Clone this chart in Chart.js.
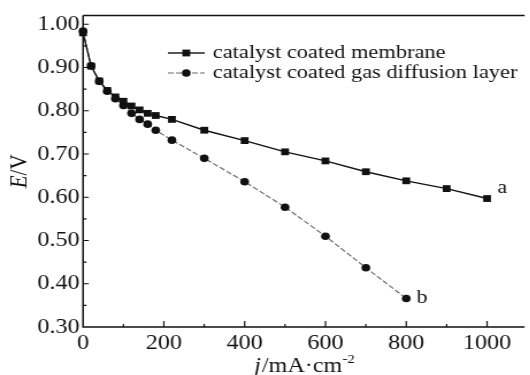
<!DOCTYPE html>
<html>
<head>
<meta charset="utf-8">
<script src="https://cdn.jsdelivr.net/npm/chart.js@4"></script>
<style>
  html, body { margin: 0; padding: 0; background: #fff; overflow: hidden; }
  /* the scanned figure is a bit wider than tall, so the whole chart is stretched sideways */
  #wrap { width: 461px; height: 375px; transform: scaleX(1.15); transform-origin: 0 0; }
</style>
</head>
<body>
<div id="wrap"><canvas id="myChart" width="461" height="375"></canvas></div>
<script>
// current density (mA/cm2) and cell voltage (V)
const jA = [0, 20, 40, 60, 80, 100, 120, 140, 160, 180, 220, 300, 400, 500, 600, 700, 800, 900, 1000];
const eA = [0.980, 0.903, 0.869, 0.847, 0.832, 0.822, 0.811, 0.802, 0.794, 0.789, 0.780, 0.755, 0.731, 0.705, 0.684, 0.659, 0.638, 0.620, 0.597];
const jB = [0, 20, 40, 60, 80, 100, 120, 140, 160, 180, 220, 300, 400, 500, 600, 700, 800];
const eB = [0.984, 0.904, 0.868, 0.845, 0.828, 0.812, 0.794, 0.780, 0.769, 0.755, 0.732, 0.690, 0.636, 0.577, 0.510, 0.437, 0.366];
const labelA = 'catalyst coated membrane';
const labelB = 'catalyst coated gas diffusion layer';
const xTicks = [0, 200, 400, 600, 800, 1000];
const yTicks = [0.30, 0.40, 0.50, 0.60, 0.70, 0.80, 0.90, 1.00];

const serif = '"Liberation Serif", "Times New Roman", serif';

function toPoints(xs, ys){
    let pts = [];
    for (let i = 0; i < xs.length; i++){
        pts.push({x: xs[i], y: ys[i]});
    }
    return pts;
}

// frame, inward ticks, axis titles, legend and the a / b labels
const decor = {
    id: 'decor',
    afterDraw(chart){
        const ctx = chart.ctx;
        const area = chart.chartArea;
        const xs = chart.scales.x;
        const ys = chart.scales.y;
        ctx.save();
        ctx.strokeStyle = '#111';
        ctx.fillStyle = '#111';

        // frame: left, bottom, top
        ctx.lineWidth = 1.5;
        ctx.beginPath();
        ctx.moveTo(area.left, area.top);
        ctx.lineTo(area.right, area.top);
        ctx.moveTo(area.left, area.top);
        ctx.lineTo(area.left, area.bottom);
        ctx.lineTo(area.right, area.bottom);
        ctx.stroke();

        // tick marks pointing inwards
        ctx.lineWidth = 1.2;
        ctx.beginPath();
        for (let v = 100; v <= 1000; v += 100){
            const px = xs.getPixelForValue(v);
            const len = (v % 200 === 0) ? 6 : 3;
            ctx.moveTo(px, area.bottom);
            ctx.lineTo(px, area.bottom - len);
        }
        for (let k = 7; k <= 20; k++){
            const v = k * 0.05;
            const py = ys.getPixelForValue(v);
            const len = (k % 2 === 0) ? 5 : 3;
            ctx.moveTo(area.left, py);
            ctx.lineTo(area.left + len, py);
        }
        ctx.stroke();

        // y title  E/V
        ctx.save();
        ctx.translate(17, (area.top + area.bottom) / 2);
        ctx.rotate(-Math.PI / 2);
        ctx.textBaseline = 'middle';
        ctx.font = 'italic 21px ' + serif;
        const wE = ctx.measureText('E').width;
        ctx.font = '21px ' + serif;
        const wV = ctx.measureText('/V').width;
        let sx = -(wE + wV) / 2;
        ctx.font = 'italic 21px ' + serif;
        ctx.fillText('E', sx, 0);
        ctx.font = '21px ' + serif;
        ctx.fillText('/V', sx + wE, 0);
        ctx.restore();

        // x title  j/mA·cm-2
        ctx.textBaseline = 'alphabetic';
        ctx.font = 'italic 21px ' + serif;
        const wj = ctx.measureText('j').width;
        ctx.font = '21px ' + serif;
        const wm = ctx.measureText('/mA·cm').width;
        ctx.font = '13px ' + serif;
        const ws = ctx.measureText('-2').width;
        let tx = (area.left + area.right) / 2 - (wj + wm + ws) / 2;
        const ty = 372;
        ctx.font = 'italic 21px ' + serif;
        ctx.fillText('j', tx, ty);
        ctx.font = '21px ' + serif;
        ctx.fillText('/mA·cm', tx + wj + 1, ty);
        ctx.font = '13px ' + serif;
        ctx.fillText('-2', tx + wj + wm + 1, ty - 9);

        // legend
        const rows = [
            {y: 53, text: labelA, ds: 0},
            {y: 73, text: labelB, ds: 1}
        ];
        for (let r of rows){
            const d = chart.data.datasets[r.ds];
            ctx.save();
            ctx.strokeStyle = d.borderColor;
            ctx.lineWidth = d.borderWidth;
            ctx.setLineDash(d.borderDash || []);
            ctx.beginPath();
            ctx.moveTo(146, r.y);
            ctx.lineTo(178, r.y);
            ctx.stroke();
            ctx.restore();
            ctx.fillStyle = '#111';
            if (d.pointStyle === 'rect'){
                ctx.fillRect(162 - 3.4, r.y - 3.4, 6.8, 6.8);
            } else {
                ctx.beginPath();
                ctx.arc(162, r.y, 3.8, 0, Math.PI * 2);
                ctx.fill();
            }
            ctx.font = '19.5px ' + serif;
            ctx.textBaseline = 'middle';
            ctx.fillText(r.text, 185, r.y);
        }

        // curve labels next to the last points
        const metaA = chart.getDatasetMeta(0).data;
        const metaB = chart.getDatasetMeta(1).data;
        const lastA = metaA[metaA.length - 1];
        const lastB = metaB[metaB.length - 1];
        ctx.font = '19px ' + serif;
        ctx.textBaseline = 'middle';
        ctx.fillText('a', lastA.x + 9, lastA.y - 11);
        ctx.fillText('b', lastB.x + 9, lastB.y);

        ctx.restore();
    }
};

const data = {
    datasets: [{
        label: labelA,
        data: toPoints(jA, eA),
        borderColor: '#111',
        backgroundColor: '#111',
        borderWidth: 1.4,
        pointStyle: 'rect',
        pointRadius: 4.8,
        pointBorderWidth: 0,
        tension: 0,
        clip: false
    }, {
        label: labelB,
        data: toPoints(jB, eB),
        borderColor: '#666',
        backgroundColor: '#111',
        borderWidth: 1.1,
        borderDash: [5, 2],
        pointStyle: 'circle',
        pointRadius: 3.8,
        pointBorderWidth: 0,
        pointBorderColor: '#111',
        tension: 0,
        clip: false
    }]
};

const config = {
    type: 'line',
    data: data,
    options: {
        responsive: false,
        animation: false,
        layout: { padding: { top: 12, right: 0, bottom: 0, left: 0 } },
        plugins: {
            legend: { display: false },
            tooltip: { enabled: false }
        },
        scales: {
            x: {
                type: 'linear',
                min: 0,
                max: 1093,
                afterBuildTicks: (scale) => { scale.ticks = xTicks.map(v => ({value: v})); },
                afterFit: (scale) => { scale.height = 48; },
                grid: { display: false, drawTicks: false },
                border: { display: false },
                ticks: {
                    autoSkip: false,
                    maxRotation: 0,
                    padding: 4,
                    color: '#111',
                    font: { family: serif, size: 21 },
                    callback: (v) => String(v)
                }
            },
            y: {
                type: 'linear',
                min: 0.30,
                max: 1.02,
                afterBuildTicks: (scale) => { scale.ticks = yTicks.map(v => ({value: v})); },
                afterFit: (scale) => { scale.width = 72.2; },
                grid: { display: false, drawTicks: false },
                border: { display: false },
                ticks: {
                    padding: 3,
                    color: '#111',
                    font: { family: serif, size: 21 },
                    callback: (v) => v.toFixed(2)
                }
            }
        }
    },
    plugins: [decor]
};

const myChart = new Chart(document.getElementById('myChart'), config);
</script>
</body>
</html>
